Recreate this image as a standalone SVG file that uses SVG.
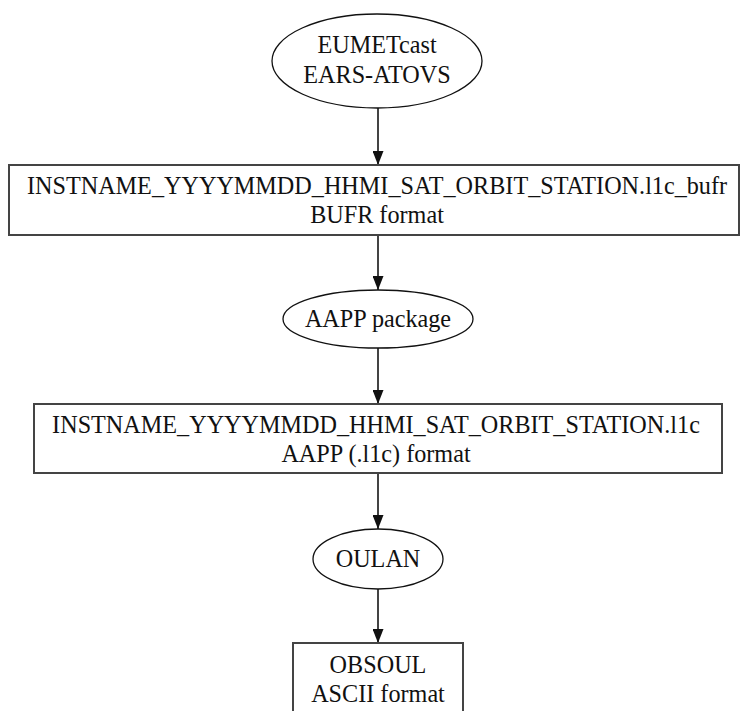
<svg xmlns="http://www.w3.org/2000/svg" width="740" height="711" viewBox="0 0 740 711">
<style>
text{font-family:"Liberation Serif","Times New Roman",serif;font-size:24.2px;fill:#111;text-anchor:middle}
.el{fill:#fff;stroke:#111;stroke-width:1.3}
.bx{fill:#fff;stroke:#444;stroke-width:2}
.edge{stroke:#444;stroke-width:2;fill:none}
</style>
<defs>
<marker id="ah" markerWidth="14" markerHeight="11" refX="14" refY="5.5" orient="auto" markerUnits="userSpaceOnUse" viewBox="0 0 14 11">
<path d="M0,0 L14,5.5 L0,11 z" fill="#111"/>
</marker>
</defs>
<rect width="740" height="711" fill="#fff"/>
<g id="connectors">
<line class="edge" x1="378" y1="108" x2="378" y2="165" marker-end="url(#ah)"/>
<line class="edge" x1="378" y1="235" x2="378" y2="290" marker-end="url(#ah)"/>
<line class="edge" x1="378" y1="348" x2="378" y2="404" marker-end="url(#ah)"/>
<line class="edge" x1="378" y1="473" x2="378" y2="529" marker-end="url(#ah)"/>
<line class="edge" x1="378" y1="589" x2="378" y2="643" marker-end="url(#ah)"/>
</g>
<g id="eumetcast">
<ellipse class="el" cx="377" cy="61" rx="105" ry="47"/>
<text x="377" y="53">EUMETcast</text>
<text x="377" y="83">EARS-ATOVS</text>
</g>
<g id="bufr">
<rect class="bx" x="9" y="165" width="730" height="70"/>
<text x="377" y="194">INSTNAME_YYYYMMDD_HHMI_SAT_ORBIT_STATION.l1c_bufr</text>
<text x="377" y="223">BUFR format</text>
</g>
<g id="aapp">
<ellipse class="el" cx="378" cy="319" rx="95" ry="29"/>
<text x="378" y="327">AAPP package</text>
</g>
<g id="l1c">
<rect class="bx" x="34" y="404" width="688" height="69"/>
<text x="376" y="433">INSTNAME_YYYYMMDD_HHMI_SAT_ORBIT_STATION.l1c</text>
<text x="376" y="462">AAPP (.l1c) format</text>
</g>
<g id="oulan">
<ellipse class="el" cx="378" cy="559" rx="65" ry="30"/>
<text x="378" y="567">OULAN</text>
</g>
<g id="obsoul">
<rect class="bx" x="293" y="643" width="170" height="80"/>
<text x="378" y="673">OBSOUL</text>
<text x="378" y="702">ASCII format</text>
</g>
</svg>
